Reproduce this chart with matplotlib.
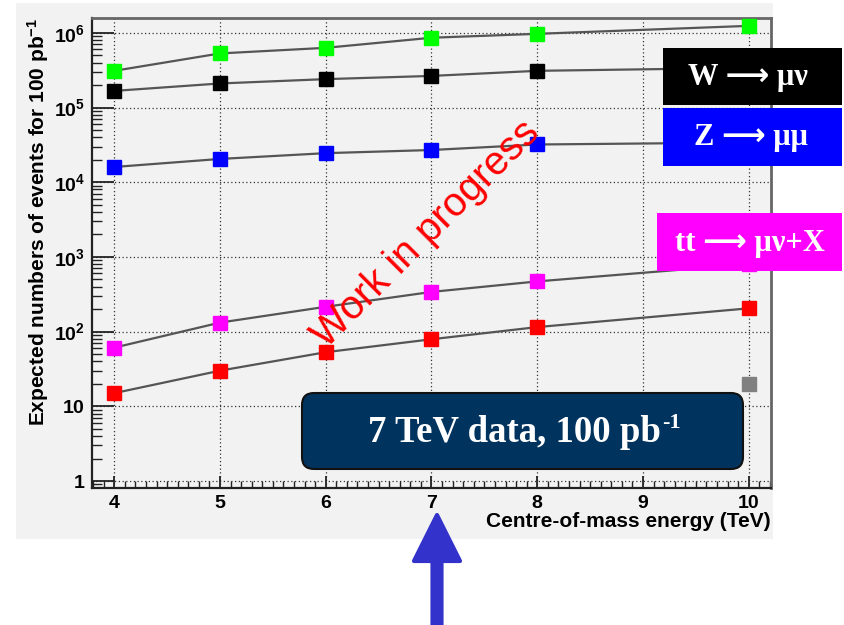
import math

import matplotlib
matplotlib.use("Agg")
import matplotlib.pyplot as plt
import matplotlib.transforms as mtransforms
from matplotlib.patches import Rectangle, FancyBboxPatch, FancyArrow
from matplotlib.text import Annotation
from matplotlib.ticker import FixedLocator, FuncFormatter, LogLocator, MultipleLocator, NullFormatter

plt.rcParams["font.family"] = ["Liberation Sans", "DejaVu Sans"]
plt.rcParams["mathtext.fontset"] = "custom"
plt.rcParams["mathtext.rm"] = "Liberation Serif:bold"
plt.rcParams["mathtext.sf"] = "Liberation Sans:bold"
plt.rcParams["mathtext.it"] = "Liberation Sans:bold"
plt.rcParams["mathtext.bf"] = "Liberation Sans:bold"

# centre-of-mass energies (TeV)
energy = [4, 5, 6, 7, 8, 10]

# expected events for 100 pb^-1
inclusive = [3.1e5, 5.3e5, 6.3e5, 8.6e5, 9.7e5, 1.24e6]   # green
w_munu = [1.67e5, 2.1e5, 2.4e5, 2.65e5, 3.1e5, 3.4e5]      # black
z_mumu = [1.6e4, 2.05e4, 2.45e4, 2.7e4, 3.2e4, 3.4e4]      # blue
tt_munu = [61, 132, 215, 340, 470, 800]                   # magenta
red_series = [15, 30, 53, 79, 115, 205]                   # red
grey_energy = [10]
grey_series = [20]

series = [
    (inclusive, "#00ff00"),
    (w_munu, "#000000"),
    (z_mumu, "#0000ff"),
    (tt_munu, "#ff00ff"),
    (red_series, "#ff0000"),
]

fig = plt.figure(figsize=(8.45, 6.25), dpi=100)
# pixel coordinates with origin at top-left
pix = mtransforms.Affine2D().scale(1, -1).translate(0, 625).scale(0.01) + fig.dpi_scale_trans

fig.add_artist(Rectangle((16, 3), 757, 536, transform=pix, facecolor="#f2f2f2",
                         edgecolor="none", zorder=-1))

ax = fig.add_axes([92 / 845, 1 - 488 / 625, (771 - 92) / 845, (488 - 18) / 625])
ax.set_facecolor("#f2f2f2")

for vals, col in series:
    ax.plot(energy, vals, color="#555555", lw=1.6, zorder=2)
    ax.plot(energy, vals, "s", color=col, markersize=9.5, zorder=3)
ax.plot(grey_energy, grey_series, "s", color="#808080", markersize=9.5, zorder=3)

ax.set_yscale("log")
ax.set_xlim(3.79, 10.21)
ax.set_ylim(0.806, 1.58e6)

ax.xaxis.set_major_locator(FixedLocator([4, 5, 6, 7, 8, 9, 10]))
ax.xaxis.set_minor_locator(MultipleLocator(0.1))
ax.yaxis.set_major_locator(FixedLocator([1, 10, 1e2, 1e3, 1e4, 1e5, 1e6]))
ax.yaxis.set_minor_locator(LogLocator(base=10, subs=range(2, 10), numticks=20))
ax.yaxis.set_minor_formatter(NullFormatter())


def ylab(v, pos):
    if v < 5:
        return r"$\mathsf{1}$"
    if v < 50:
        return r"$\mathsf{10}$"
    return r"$\mathsf{10^{%d}}$" % round(math.log10(v))


ax.yaxis.set_major_formatter(FuncFormatter(ylab))

ax.tick_params(axis="both", which="both", direction="in", top=False, right=False,
               color="#222222", labelsize=14)
ax.tick_params(axis="x", which="major", length=9, width=1.3, pad=5)
ax.tick_params(axis="x", which="minor", length=5, width=1.0)
ax.tick_params(axis="y", which="major", length=16, width=1.3, pad=5)
ax.tick_params(axis="y", which="minor", length=7, width=1.0)
for lbl in ax.get_xticklabels():
    lbl.set_fontweight("bold")

ax.grid(which="major", linestyle=(0, (1, 2)), color="#333333", lw=0.9)
for s in ["left", "bottom"]:
    ax.spines[s].set_color("#222222")
    ax.spines[s].set_linewidth(1.6)
for s in ["top", "right"]:
    ax.spines[s].set_color("#666666")
    ax.spines[s].set_linewidth(2.0)

ax.set_xlabel("Centre-of-mass energy (TeV)", loc="right", fontsize=15,
              fontweight="bold", labelpad=0)
ax.set_ylabel(r"Expected numbers of events for 100 pb$\mathsf{^{-1}}$", loc="top",
              fontsize=15, fontweight="bold", labelpad=2)

ax.text(6.95, 2.0e3, "Work in progress", color="#ff0000", fontsize=29,
        rotation=45, ha="center", va="center", zorder=4)

# channel labels
labels = [
    ((663, 48, 179, 57), "#000000", "W \u27f6 \u03bc\u03bd", (748, 77)),
    ((663, 108, 179, 58), "#0000ff", "Z \u27f6 \u03bc\u03bc", (751, 138)),
    ((657, 213, 185, 58), "#ff00ff", "tt \u27f6 \u03bc\u03bd+X", (750, 243)),
]
for (x0, y0, w, h), col, txt, (tx, ty) in labels:
    fig.add_artist(Rectangle((x0, y0), w, h, transform=pix, facecolor=col,
                             edgecolor="none", zorder=5))
    fig.text(tx, ty, txt, transform=pix, color="white", fontsize=22,
             fontweight="bold", family=["Liberation Serif", "DejaVu Sans"],
             ha="center", va="center", zorder=6)

fig.add_artist(FancyBboxPatch((302, 393), 441, 76, boxstyle="round,pad=0,rounding_size=12",
                              transform=pix, facecolor="#01335f", edgecolor="#111111",
                              lw=1.5, zorder=5))
main = fig.text(514, 433, "7 TeV data, 100 pb", transform=pix, color="white",
                fontsize=26.5, fontweight="bold", family="Liberation Serif", ha="center",
                va="center", zorder=6)
sup = Annotation("-1", xy=(1.0, 0.8), xycoords=main, xytext=(1, 0),
                 textcoords="offset points", color="white", fontsize=16,
                 fontweight="bold", family="Liberation Serif", ha="left",
                 va="center", zorder=7, annotation_clip=False)
fig.add_artist(sup)

fig.add_artist(FancyArrow(437, 625, 0, -110, width=9, head_width=46, head_length=46,
                          length_includes_head=True, transform=pix, facecolor="#3333cc",
                          edgecolor="#3333cc", lw=3, joinstyle="round", zorder=5))

fig.savefig("out.png", dpi=100)
